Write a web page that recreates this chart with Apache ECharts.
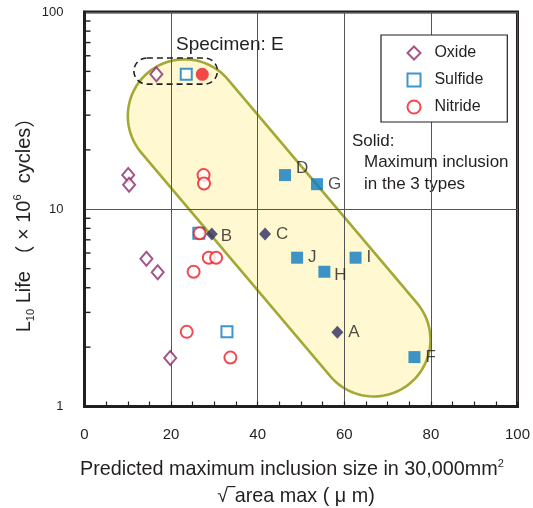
<!DOCTYPE html>
<html><head><meta charset="utf-8">
<script src="https://cdn.jsdelivr.net/npm/echarts@6/dist/echarts.min.js"></script>
<style>html,body{margin:0;padding:0;background:#fff}#c{width:533px;height:508px}</style>
</head><body><div id="c"></div>
<script>
const FONT = '"Liberation Sans", Arial, "Noto Sans CJK JP", sans-serif';
const INK = '#231F20';
// ---- data ----
// open symbols: all inclusions
const oxideX = [16.6, 10.1, 10.3, 14.3, 16.9, 19.8];
const oxideY = [48.3, 14.9, 13.3, 5.61, 4.79, 1.76];
const sulfideX = [23.5, 26.4, 32.9];
const sulfideY = [48.3, 7.55, 2.39];
const nitrideX = [27.5, 27.6, 26.6, 28.7, 30.4, 25.2, 23.6, 33.7];
const nitrideY = [14.9, 13.5, 7.55, 5.68, 5.68, 4.82, 2.39, 1.77];
// solid symbols: maximum inclusion in the 3 types
const maxOxideNames = ['B', 'C', 'A'];
const maxOxideX = [29.4, 41.7, 58.4];
const maxOxideY = [7.49, 7.49, 2.38];
const maxSulfideNames = ['D', 'G', 'J', 'H', 'I', 'F'];
const maxSulfideX = [46.3, 53.7, 49.1, 55.4, 62.6, 76.2];
const maxSulfideY = [14.9, 13.4, 5.68, 4.82, 5.68, 1.78];
const maxNitrideNames = ['E'];
const maxNitrideX = [27.2];
const maxNitrideY = [48.3];
// axes
const xTickValues = [0, 20, 40, 60, 80, 100];
const yTickValues = [1, 10, 100];
const yMinorTicks = [2, 3, 4, 5, 6, 7, 8, 9, 20, 30, 40, 50, 60, 70, 80, 90];
// annotations (data coordinates)
const bandEnds = [23.1, 29.7, 66.8, 2.18];      // x1, y1, x2, y2 of band centre line
const bandHalfWidthX = 13.1;                      // half width, in x units
const specimenBox = [11.4, 58.5, 30.7, 43.1];    // x1, yTop, x2, yBottom

const zip = (xs, ys) => xs.map((x, i) => [x, ys[i]]);
const named = (names, xs, ys) => xs.map((x, i) => ({ name: names[i], value: [x, ys[i]] }));

const labelOffsets = { D: [0, -7], H: [-1, 4], B: [-2, 2] };
function withLabels(items) {
  return items.map(d => labelOffsets[d.name] ? Object.assign({}, d, { label: { offset: labelOffsets[d.name] } }) : d);
}

function renderBand(params, api) {
  const p1 = api.coord([api.value(0), api.value(1)]);
  const p2 = api.coord([api.value(2), api.value(3)]);
  const r = api.coord([bandHalfWidthX, 10])[0] - api.coord([0, 10])[0];
  const ang = Math.atan2(p2[1] - p1[1], p2[0] - p1[0]);
  const pts = [];
  const N = 48;
  for (let i = 0; i <= N; i++) { const a = ang - Math.PI / 2 + Math.PI * i / N; pts.push([p2[0] + r * Math.cos(a), p2[1] + r * Math.sin(a)]); }
  for (let i = 0; i <= N; i++) { const a = ang + Math.PI / 2 + Math.PI * i / N; pts.push([p1[0] + r * Math.cos(a), p1[1] + r * Math.sin(a)]); }
  return { type: 'polygon', shape: { points: pts }, style: { fill: '#FFF8D0', stroke: '#A2A935', lineWidth: 2.6 } };
}
function renderBox(params, api) {
  const a = api.coord([api.value(0), api.value(1)]);
  const b = api.coord([api.value(2), api.value(3)]);
  const h = b[1] - a[1];
  return { type: 'rect', shape: { x: a[0], y: a[1], width: b[0] - a[0], height: h, r: h / 2 },
    style: { fill: 'none', stroke: INK, lineWidth: 1.6, lineDash: [6, 4] } };
}
function renderMinorTick(params, api) {
  const p = api.coord([0, api.value(1)]);
  return { type: 'line', shape: { x1: p[0], y1: p[1], x2: p[0] + 6, y2: p[1] }, style: { stroke: INK, lineWidth: 1.4 } };
}

const pointLabel = { show: true, formatter: '{b}', position: 'right', distance: 5, fontSize: 17, color: INK, fontFamily: FONT };

const option = {
  animation: false,
  backgroundColor: '#fff',
  textStyle: { fontFamily: FONT },
  grid: { left: 84.5, right: 13.5, top: 12, bottom: 101.5, show: true, borderColor: INK, borderWidth: 3, backgroundColor: 'transparent' },
  xAxis: {
    type: 'value', min: 0, max: 100, interval: 20,
    axisLine: { show: true, lineStyle: { color: INK, width: 3 } },
    axisTick: { show: true, inside: true, length: 5, lineStyle: { color: INK, width: 1.2 } },
    minorTick: { show: true, splitNumber: 4, length: 5, lineStyle: { color: INK, width: 1.2 } },
    splitLine: { show: true, lineStyle: { color: '#555', width: 1 } },
    axisLabel: { margin: 21, fontSize: 15, color: INK, fontFamily: FONT,
      formatter: v => xTickValues.includes(v) ? String(v) : '' }
  },
  yAxis: {
    type: 'log', logBase: 10, min: 1, max: 100,
    axisLine: { show: true, lineStyle: { color: INK, width: 3 } },
    axisTick: { show: false },
    splitLine: { show: true, lineStyle: { color: '#555', width: 1 } },
    axisLabel: { margin: 21, fontSize: 13, color: INK, fontFamily: FONT,
      formatter: v => yTickValues.includes(v) ? String(v) : '' }
  },
  legend: {
    data: ['Oxide', 'Sulfide', 'Nitride'], orient: 'vertical', left: 381, top: 35,
    itemWidth: 13, itemHeight: 13, itemGap: 11, padding: [10, 24, 7, 25.5],
    borderColor: INK, borderWidth: 1.2, backgroundColor: '#fff', selectedMode: false,
    formatter: name => '  ' + name,
    textStyle: { fontSize: 16, color: INK, fontFamily: FONT }
  },
  graphic: [
    { type: 'text', left: 176, top: 35, style: { text: 'Specimen: E', fontSize: 19, fill: INK, fontFamily: FONT } },
    { type: 'text', left: 352, top: 133, style: { text: 'Solid:', fontSize: 17, fill: INK, fontFamily: FONT } },
    { type: 'text', left: 364, top: 154, style: { text: 'Maximum inclusion', fontSize: 17, fill: INK, fontFamily: FONT } },
    { type: 'text', left: 364, top: 176, style: { text: 'in the 3 types', fontSize: 17, fill: INK, fontFamily: FONT } },
    { type: 'text', x: 24, y: 220, rotation: Math.PI / 2,
      style: { text: '{a|L}{s|10}{a| Life }{c|（}{a| × 10}{p|6}{a|  cycles}{c|）}', align: 'center', verticalAlign: 'middle', fill: INK,
        rich: { a: { fontSize: 20, lineHeight: 24, fontFamily: FONT, fill: INK, verticalAlign: 'middle' },
                c: { fontSize: 20, lineHeight: 24, fontFamily: '"Noto Sans CJK JP", sans-serif', fill: INK, verticalAlign: 'middle' },
                s: { fontSize: 11, lineHeight: 11, fontFamily: FONT, fill: INK, verticalAlign: 'bottom' },
                p: { fontSize: 11, lineHeight: 11, fontFamily: FONT, fill: INK, verticalAlign: 'top' } } } },
    { type: 'text', x: 292, y: 470,
      style: { text: '{a|Predicted maximum inclusion size in 30,000mm}{p|2}', align: 'center', verticalAlign: 'middle', fill: INK,
        rich: { a: { fontSize: 19.8, lineHeight: 24, fontFamily: FONT, fill: INK, verticalAlign: 'middle' },
                p: { fontSize: 11, lineHeight: 11, fontFamily: FONT, fill: INK, verticalAlign: 'top' } } } },
    { type: 'text', x: 296, y: 497,
      style: { text: '√‾area max ( μ m)', align: 'center', verticalAlign: 'middle', fontSize: 19.8, fill: INK, fontFamily: FONT } }
  ],
  series: [
    { type: 'custom', name: 'band', z: -1, silent: true, renderItem: renderBand, data: [bandEnds], encode: { x: [0, 2], y: [1, 3] } },
    { type: 'custom', name: 'box', z: 3, silent: true, renderItem: renderBox, data: [specimenBox], encode: { x: [0, 2], y: [1, 3] } },
    { type: 'custom', name: 'yMinor', z: 3, silent: true, renderItem: renderMinorTick, data: yMinorTicks.map(v => [0, v]) },
    { type: 'scatter', name: 'Oxide', z: 4, symbol: 'emptyDiamond', symbolSize: [12, 14],
      itemStyle: { color: '#8C2A6C', borderColor: '#8C2A6C', borderWidth: 1.6 }, data: zip(oxideX, oxideY) },
    { type: 'scatter', name: 'Sulfide', z: 4, symbol: 'emptyRect', symbolSize: 11,
      itemStyle: { color: '#0C7BC0', borderColor: '#0C7BC0', borderWidth: 1.6 }, data: zip(sulfideX, sulfideY) },
    { type: 'scatter', name: 'Nitride', z: 5, symbol: 'emptyCircle', symbolSize: 12,
      itemStyle: { color: '#EE1C25', borderColor: '#EE1C25', borderWidth: 1.4 }, data: zip(nitrideX, nitrideY) },
    { type: 'scatter', name: 'Oxide max', z: 6, symbol: 'diamond', symbolSize: [12, 13],
      itemStyle: { color: '#2C2C62' }, label: pointLabel, data: withLabels(named(maxOxideNames, maxOxideX, maxOxideY)) },
    { type: 'scatter', name: 'Sulfide max', z: 6, symbol: 'rect', symbolSize: 12,
      itemStyle: { color: '#0C7BC0' }, label: pointLabel, data: withLabels(named(maxSulfideNames, maxSulfideX, maxSulfideY)) },
    { type: 'scatter', name: 'Nitride max', z: 6, symbol: 'circle', symbolSize: 13,
      itemStyle: { color: '#EE1C25' }, data: named(maxNitrideNames, maxNitrideX, maxNitrideY) }
  ]
};
const chart = echarts.init(document.getElementById('c'), null, { renderer: 'canvas' });
chart.setOption(option);
</script>
</body></html>
